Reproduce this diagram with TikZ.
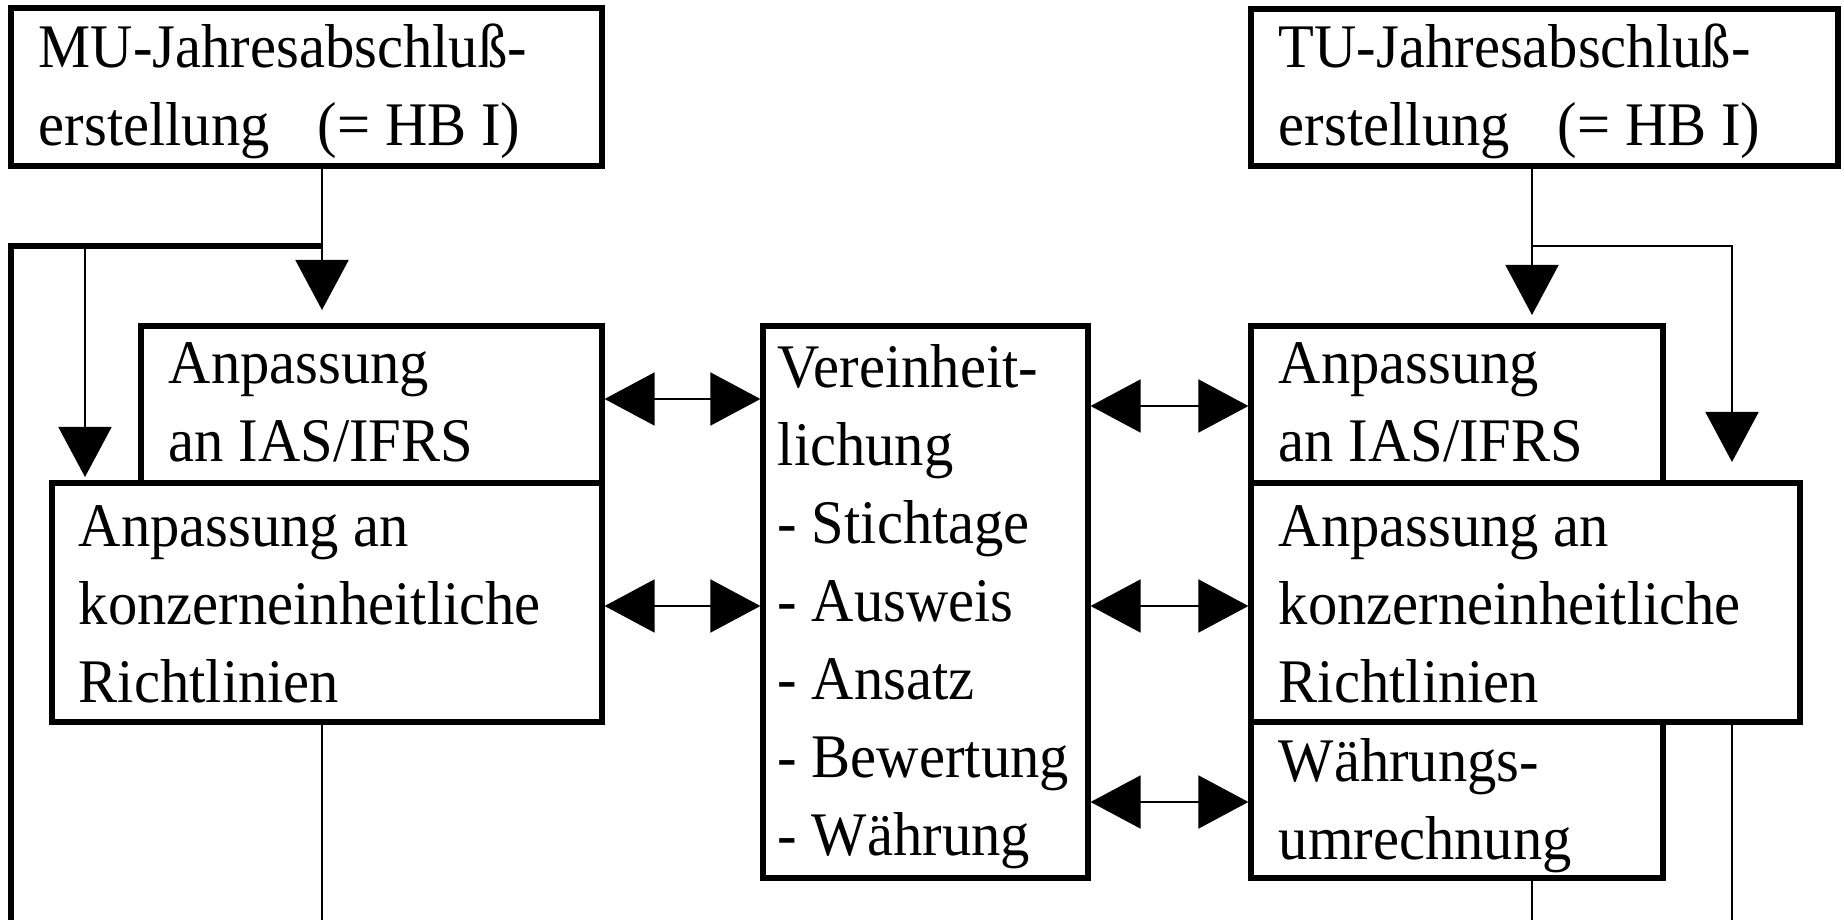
\documentclass[tikz,border=0pt]{standalone}
\usepackage{fontspec}
\setmainfont{Liberation Serif}[FakeStretch=0.945]
\usetikzlibrary{arrows.meta,fit}
\begin{document}
\begin{tikzpicture}[x=0.25pt,y=-0.25pt,
  box/.style={draw, line width=1.3pt, rectangle, inner sep=0pt},
  txt/.style={font=\fontsize{15.5}{19.5}\selectfont, align=left, inner sep=0pt, anchor=base west},
  conn/.style={line width=0.45pt},
  heavy/.style={line width=1.3pt, line join=miter},
  tip/.style={-{Triangle[length=12.5pt,width=13.25pt]}},
  both/.style={{Triangle[length=12.5pt,width=13.25pt]}-{Triangle[length=12.5pt,width=13.25pt]}}
]
\useasboundingbox (0,0) rectangle (1844,920);

% boxes
\node[box, fit={(11,8) (602,166)}] (mu) {};
\node[box, fit={(1251,9) (1838,166)}] (tu) {};
\node[box, fit={(141,326) (602,483)}] (lias) {};
\node[box, fit={(52,483) (602,722)}] (lkonz) {};
\node[box, fit={(763,326) (1088,878)}] (mid) {};
\node[box, fit={(1251,326) (1663,483)}] (rias) {};
\node[box, fit={(1251,483) (1800,722)}] (rkonz) {};
\node[box, fit={(1251,722) (1663,878)}] (wahr) {};

% texts (anchored at the baseline of their last line)
\node[txt] (mu-t) at (38,146) {MU-Jahresabschluß-\\erstellung\hspace{12pt}(= HB I)};
\node[txt] (tu-t) at (1278,146) {TU-Jahresabschluß-\\erstellung\hspace{12pt}(= HB I)};
\node[txt] (lias-t) at (168,461) {Anpassung\\an IAS/IFRS};
\node[txt] (lkonz-t) at (78,702) {Anpassung an\\konzerneinheitliche\\Richtlinien};
\node[txt] (mid-t) at (777,855) {Vereinheit-\\lichung\\- Stichtage\\- Ausweis\\- Ansatz\\- Bewertung\\- Währung};
\node[txt] (rias-t) at (1278,461) {Anpassung\\an IAS/IFRS};
\node[txt] (rkonz-t) at (1278,702) {Anpassung an\\konzerneinheitliche\\Richtlinien};
\node[txt] (wahr-t) at (1278,859) {Währungs-\\umrechnung};

% helper coordinates
\coordinate (cA) at (322,246);
\coordinate (cB) at (11,246);
\coordinate (cC) at (85,246);
\coordinate (cT) at (1532,246);
\coordinate (cD) at (1732,246);
\coordinate (bot) at (0,920);
\coordinate (y1) at (0,399);
\coordinate (y2) at (0,406);
\coordinate (y3) at (0,606);
\coordinate (y4) at (0,802);

% left feed
\draw[conn, tip, shorten >=3.35pt] (mu.south -| cA) -- (lias.north -| cA);
\draw[heavy] (cA) -- (cB) -- (bot -| cB);
\draw[conn, tip, shorten >=0.85pt] (cC) -- (lkonz.north -| cC);
\draw[conn] (lkonz.south -| cA) -- (bot -| cA);

% right feed
\draw[conn, tip, shorten >=2.1pt] (tu.south -| cT) -- (rias.north -| cT);
\draw[conn, tip, shorten >=4.6pt] (cT) -- (cD) -- (rkonz.north -| cD);
\draw[conn] (wahr.south -| cT) -- (bot -| cT);
\draw[conn] (rkonz.south -| cD) -- (bot -| cD);

% double arrows
\draw[conn, both] (lias.east |- y1) -- (mid.west |- y1);
\draw[conn, both] (mid.east |- y2) -- (rias.west |- y2);
\draw[conn, both] (lkonz.east |- y3) -- (mid.west |- y3);
\draw[conn, both] (mid.east |- y3) -- (rkonz.west |- y3);
\draw[conn, both] (mid.east |- y4) -- (wahr.west |- y4);
\end{tikzpicture}
\end{document}
